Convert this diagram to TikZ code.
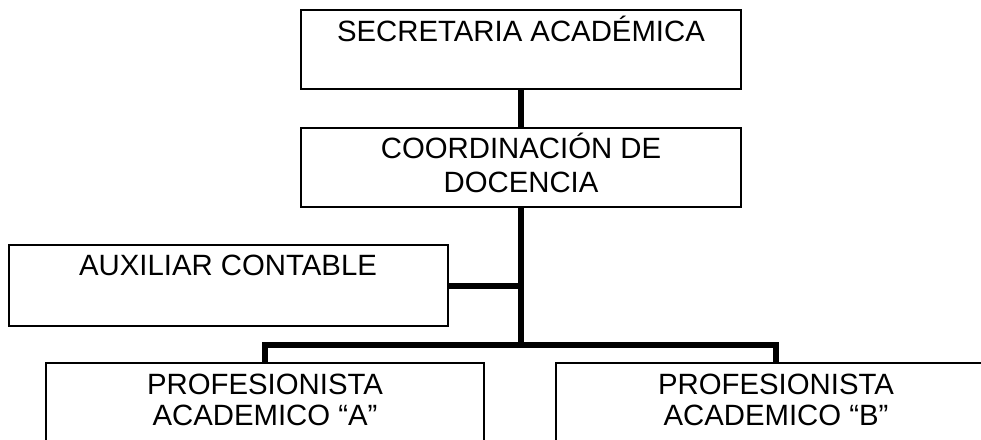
\documentclass[tikz,border=0pt]{standalone}
\usepackage{fontspec}
\setmainfont{Liberation Sans}
\begin{document}
\begin{tikzpicture}[x=0.75pt,y=-0.75pt,
  box/.style={draw=black,line width=0.8pt,rectangle,inner sep=0pt,fill=white},
  lbl/.style={font=\fontsize{22}{26}\selectfont,anchor=base,inner sep=0pt},
  conn/.style={draw=black,line width=4.5pt,line join=miter}]
\useasboundingbox[fill=white] (0,0) rectangle (981,439);
\node[box,minimum width=330pt,minimum height=59.25pt] (sec) at (521,49.5) {};
\node[box,minimum width=330pt,minimum height=59.25pt] (coo) at (521,167.5) {};
\node[box,minimum width=329.25pt,minimum height=60.75pt] (aux) at (228.5,285.5) {};
\node[box,minimum width=328.5pt,minimum height=80.25pt] (pa) at (265,416.5) {};
\node[box,minimum width=330pt,minimum height=80.25pt] (pb) at (776,416.5) {};
\coordinate (j) at (521,345);
\draw[conn] (sec.south) -- (coo.north);
\draw[conn] (coo.south) -- (j);
\draw[conn] (aux.east) -- (coo.south |- aux.east);
\draw[conn] (pa.north) |- (j) -| (pb.north);
\node[lbl] (tsec) at (521,41) {SECRETARIA ACADÉMICA};
\node[lbl] (tcoo1) at (521,158) {COORDINACIÓN DE};
\node[lbl] (tcoo2) at (521,192) {DOCENCIA};
\node[lbl] (taux) at (228,275) {AUXILIAR CONTABLE};
\node[lbl] (tpa1) at (265,394) {PROFESIONISTA};
\node[lbl] (tpa2) at (265,425) {ACADEMICO “A”};
\node[lbl] (tpb1) at (776,394) {PROFESIONISTA};
\node[lbl] (tpb2) at (776,425) {ACADEMICO “B”};
\end{tikzpicture}
\end{document}
